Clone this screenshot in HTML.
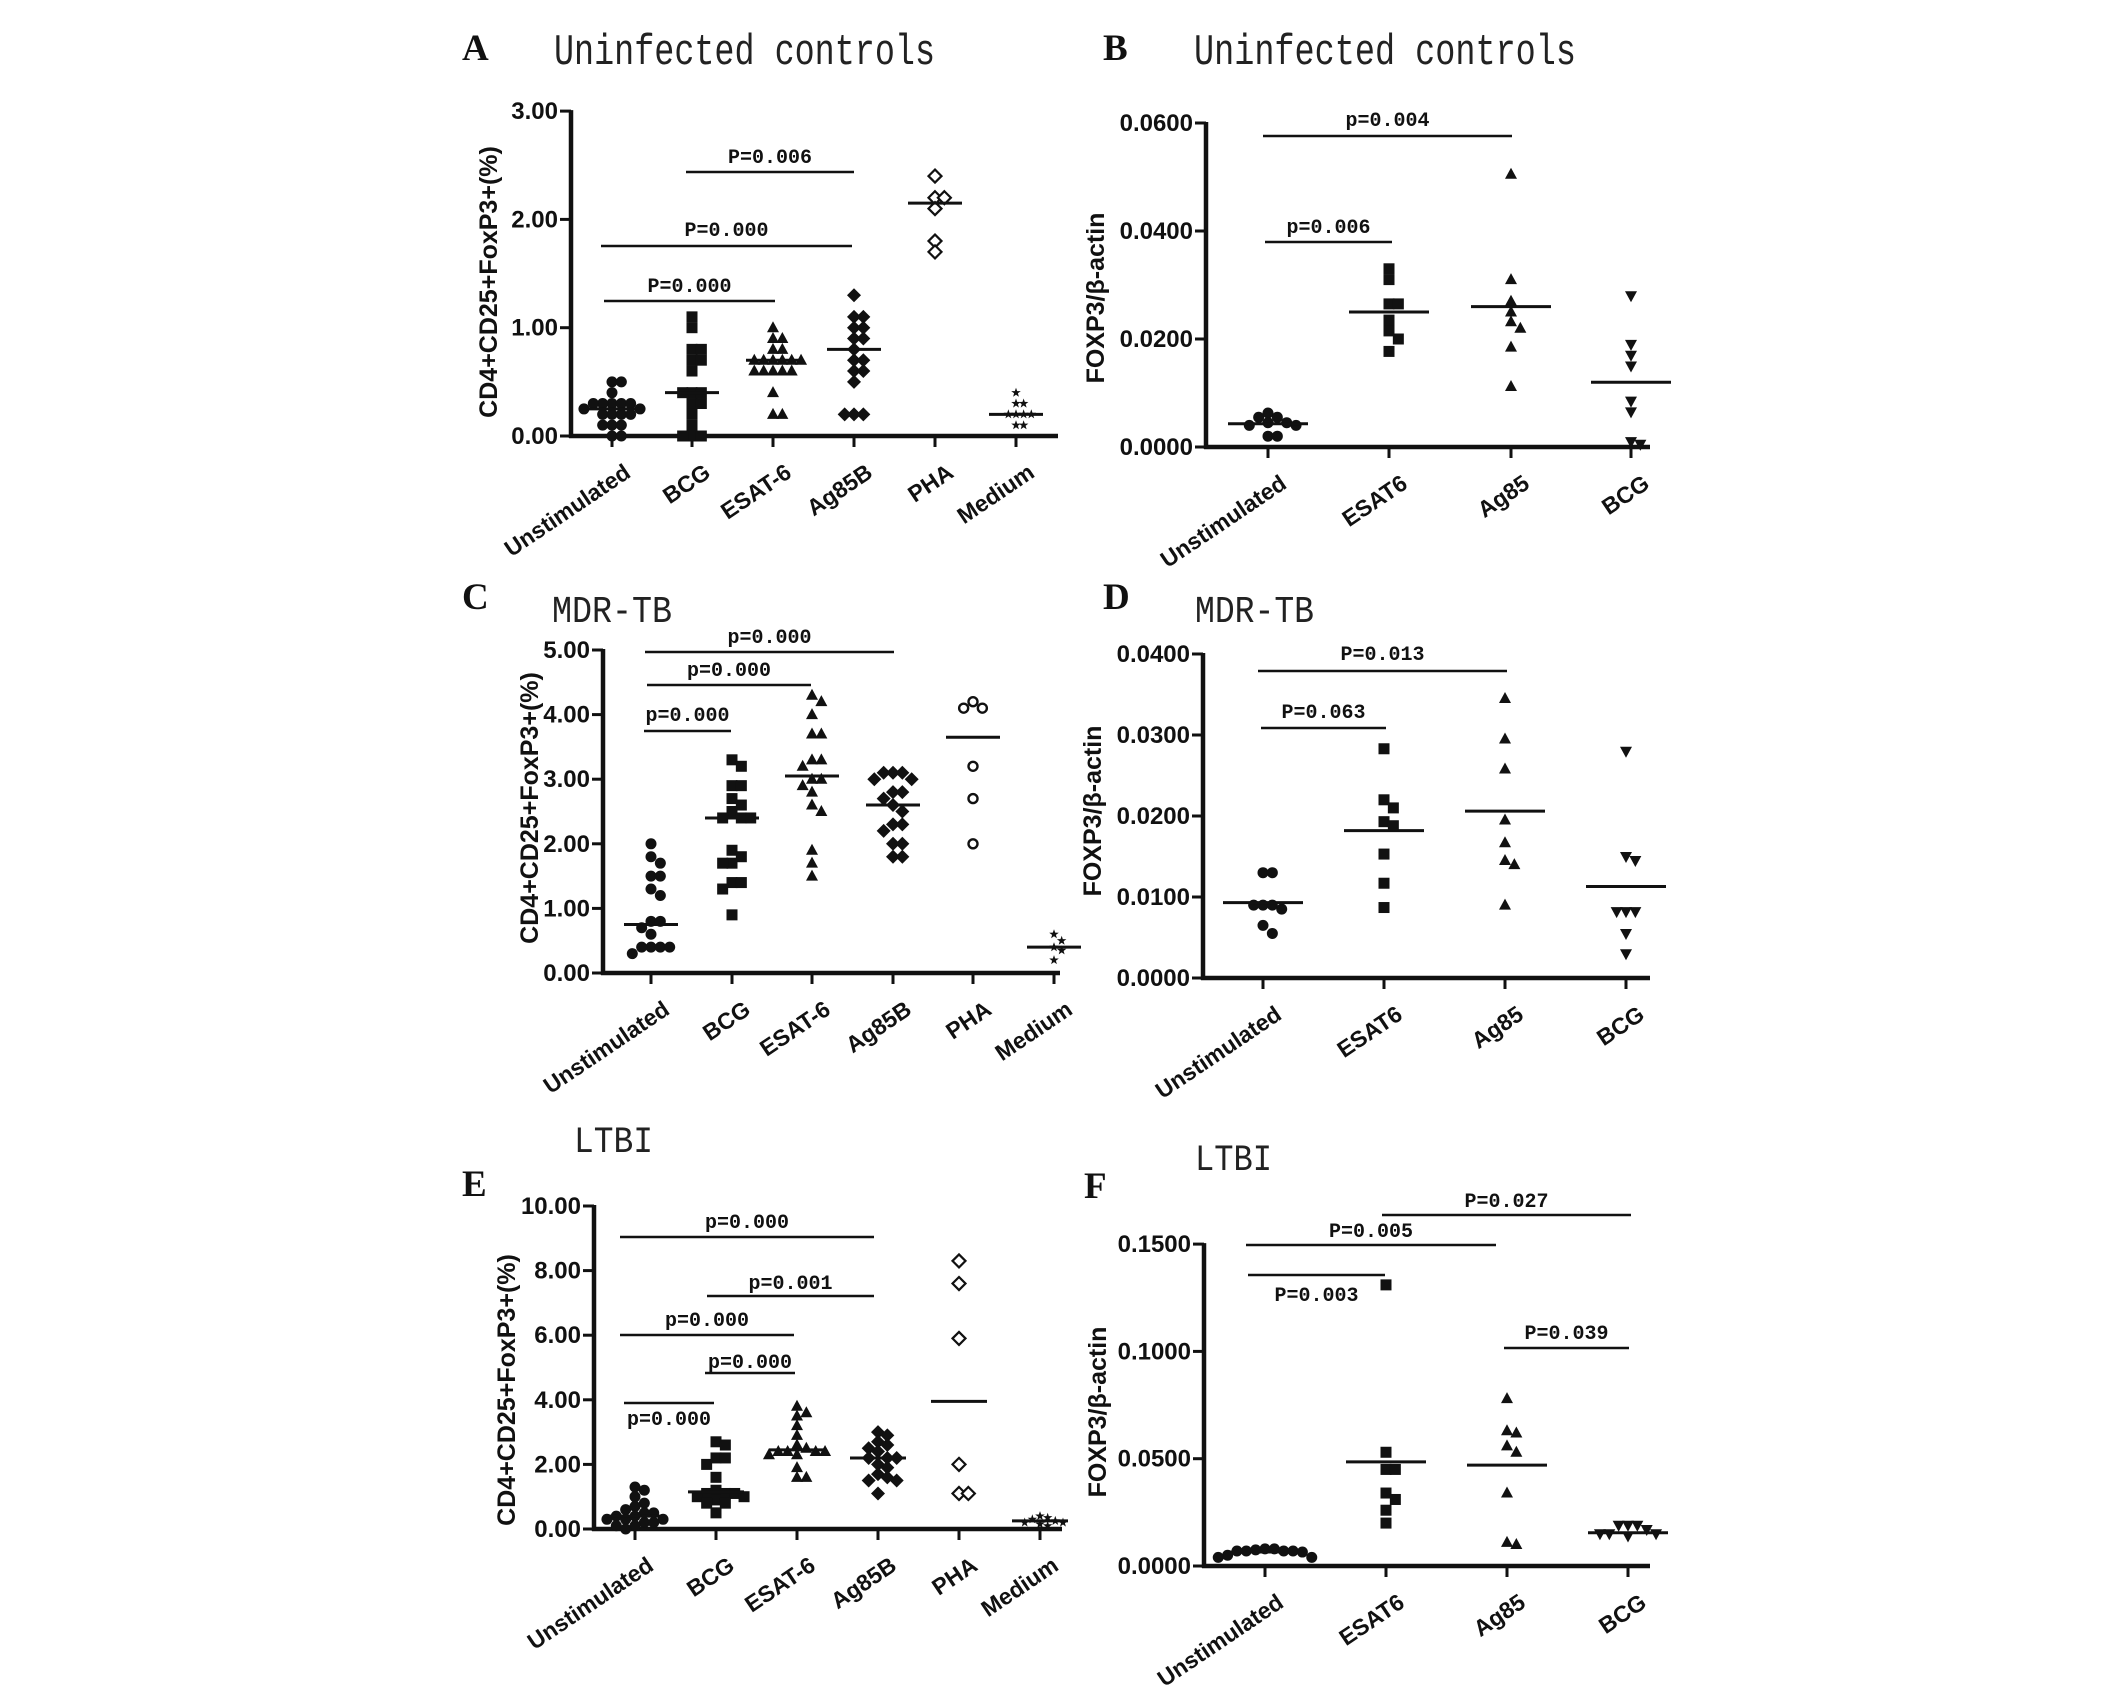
<!DOCTYPE html>
<html><head><meta charset="utf-8"><style>
html,body{margin:0;padding:0;background:#fff;}
svg{display:block;}
</style></head><body>
<svg id="fig" width="2126" height="1693" viewBox="0 0 2126 1693" xmlns="http://www.w3.org/2000/svg">
<rect width="2126" height="1693" fill="#fff"/>
</svg>
<script>
// ---------- DATA ----------
const catsLeft = ["Unstimulated","BCG","ESAT-6","Ag85B","PHA","Medium"];
const catsRight = ["Unstimulated","ESAT6","Ag85","BCG"];

const aUnstim = [0.5,0.5,0.4,0.3,0.3,0.3,0.3,0.3,0.25,0.25,0.2,0.2,0.2,0.2,0.1,0.1,0.1,0.0,0.0];
const aBCG = [1.1,1.0,0.8,0.8,0.7,0.7,0.6,0.4,0.4,0.4,0.3,0.3,0.2,0.1,0.0,0.0,0.0];
const aESAT = [1.0,0.9,0.9,0.8,0.8,0.7,0.7,0.7,0.7,0.7,0.7,0.6,0.6,0.6,0.6,0.6,0.4,0.2,0.2];
const aAg85B = [1.3,1.1,1.1,1.0,1.0,0.9,0.9,0.8,0.7,0.7,0.6,0.6,0.5,0.2,0.2,0.2];
const aPHA = [2.4,2.2,2.2,2.1,1.8,1.7];
const aMedium = [0.4,0.3,0.3,0.2,0.2,0.2,0.2,0.1,0.1];
const aMedians = [0.25,0.4,0.7,0.8,2.15,0.2];
const aTicks = [0,1,2,3];
const aTickLabels = ["0.00","1.00","2.00","3.00"];

const bUnstim = [0.0063,0.0055,0.0055,0.0045,0.0045,0.004,0.004,0.002,0.002];
const bESAT = [0.033,0.031,0.0265,0.0265,0.0235,0.0215,0.020,0.0177];
const bAg85 = [0.0505,0.031,0.027,0.025,0.0232,0.022,0.0185,0.0112];
const bBCG = [0.028,0.019,0.017,0.015,0.0085,0.0065,0.001,0.0005];
const bMedians = [0.0043,0.025,0.026,0.012];
const bTicks = [0,0.02,0.04,0.06];
const bTickLabels = ["0.0000","0.0200","0.0400","0.0600"];

const cUnstim = [2.0,1.8,1.7,1.5,1.5,1.3,1.2,0.8,0.8,0.7,0.6,0.4,0.4,0.4,0.4,0.3];
const cBCG = [3.3,3.2,2.9,2.9,2.7,2.6,2.5,2.4,2.4,2.4,1.9,1.8,1.7,1.7,1.4,1.4,1.3,0.9];
const cESAT = [4.3,4.2,4.0,3.7,3.7,3.3,3.3,3.2,3.0,3.0,2.9,2.8,2.6,2.5,1.9,1.7,1.5];
const cAg85B = [3.1,3.1,3.1,3.0,3.0,2.8,2.8,2.7,2.6,2.5,2.3,2.3,2.2,2.0,2.0,1.8,1.8];
const cPHA = [4.2,4.1,4.1,3.2,2.7,2.0];
const cMedium = [0.6,0.5,0.4,0.35,0.2];
const cMedians = [0.75,2.4,3.05,2.6,3.65,0.4];
const cTicks = [0,1,2,3,4,5];
const cTickLabels = ["0.00","1.00","2.00","3.00","4.00","5.00"];

const dUnstim = [0.013,0.013,0.009,0.009,0.009,0.0085,0.0065,0.0055];
const dESAT = [0.0283,0.022,0.021,0.0193,0.0188,0.0153,0.0117,0.0087];
const dAg85 = [0.0345,0.0295,0.0258,0.0195,0.0167,0.0145,0.014,0.009];
const dBCG = [0.028,0.015,0.0145,0.0082,0.0082,0.0082,0.0055,0.003];
const dMedians = [0.0093,0.0182,0.0206,0.0113];
const dTicks = [0,0.01,0.02,0.03,0.04];
const dTickLabels = ["0.0000","0.0100","0.0200","0.0300","0.0400"];

const eUnstim = [1.3,1.2,1.0,0.8,0.7,0.6,0.5,0.5,0.4,0.4,0.3,0.3,0.3,0.2,0.2,0.1,0.1,0.0];
const eBCG = [2.7,2.6,2.2,2.2,2.0,1.6,1.2,1.1,1.1,1.1,1.0,1.0,0.9,0.8,0.8,0.5];
const eESAT = [3.8,3.6,3.5,3.2,2.9,2.6,2.5,2.4,2.4,2.4,2.4,2.3,2.3,1.9,1.6,1.6];
const eAg85B = [3.0,2.9,2.7,2.6,2.5,2.4,2.2,2.2,2.2,2.0,1.9,1.7,1.6,1.5,1.5,1.1];
const ePHA = [8.3,7.6,5.9,2.0,1.1,1.1];
const eMedium = [0.4,0.35,0.3,0.25,0.2,0.2,0.15,0.1];
const eMedians = [0.4,1.15,2.45,2.2,3.95,0.25];
const eTicks = [0,2,4,6,8,10];
const eTickLabels = ["0.00","2.00","4.00","6.00","8.00","10.00"];

const fUnstim = [0.008,0.008,0.0075,0.007,0.007,0.007,0.007,0.0065,0.005,0.004,0.004];
const fESAT = [0.131,0.053,0.045,0.045,0.034,0.031,0.026,0.020];
const fAg85 = [0.078,0.063,0.062,0.056,0.053,0.034,0.011,0.010];
const fBCG = [0.019,0.019,0.019,0.017,0.015,0.015,0.015,0.014];
const fMedians = [0.0065,0.0485,0.047,0.0155];
const fTicks = [0,0.05,0.1,0.15];
const fTickLabels = ["0.0000","0.0500","0.1000","0.1500"];

const pLabelsA = ["P=0.006","P=0.000","P=0.000"];
const pLabelsB = ["p=0.004","p=0.006"];
const pLabelsC = ["p=0.000","p=0.000","p=0.000"];
const pLabelsD = ["P=0.013","P=0.063"];
const pLabelsE = ["p=0.000","p=0.001","p=0.000","p=0.000","p=0.000"];
const pLabelsF = ["P=0.027","P=0.005","P=0.003","P=0.039"];

// ---------- LAYOUT ----------
const panels = [
 {id:"a", letter:"A", title:"Uninfected controls", lx:462, ly:60, tx:554, ty:64, tw:381, tfs:44,
  axX:571, y0:436, k:108.3, yMax:3, xEnd:1058, cats:[612,692,773,854,935,1016], names:catsLeft,
  ticks:aTicks, tl:aTickLabels, ylab:"CD4+CD25+FoxP3+(%)", ylx:488, yly:282, half:27,
  series:[[aUnstim,"circle"],[aBCG,"square"],[aESAT,"tri"],[aAg85B,"diamond"],[aPHA,"odiamond"],[aMedium,"star"]], med:aMedians,
  bars:[[686,854,172,156],[601,852,246,229],[604,775,301,285]], pl:pLabelsA},
 {id:"b", letter:"B", title:"Uninfected controls", lx:1103, ly:60, tx:1194, ty:64, tw:382, tfs:44,
  axX:1206, y0:447, k:5400, yMax:0.06, xEnd:1650, cats:[1268,1389,1511,1631], names:catsRight,
  ticks:bTicks, tl:bTickLabels, ylab:"FOXP3/β-actin", ylx:1095, yly:298, half:40,
  series:[[bUnstim,"circle"],[bESAT,"square"],[bAg85,"tri"],[bBCG,"itri"]], med:bMedians,
  bars:[[1263,1512,136,119],[1265,1392,242,226]], pl:pLabelsB},
 {id:"c", letter:"C", title:"MDR-TB", lx:462, ly:609, tx:552, ty:622, tw:120, tfs:38,
  axX:603, y0:973, k:64.6, yMax:5, xEnd:1060, cats:[651,732,812,893,973,1054], names:catsLeft,
  ticks:cTicks, tl:cTickLabels, ylab:"CD4+CD25+FoxP3+(%)", ylx:529, yly:808, half:27,
  series:[[cUnstim,"circle"],[cBCG,"square"],[cESAT,"tri"],[cAg85B,"diamond"],[cPHA,"ocircle"],[cMedium,"star"]], med:cMedians,
  bars:[[645,894,652,636],[647,811,685,669],[644,731,731,714]], pl:pLabelsC},
 {id:"d", letter:"D", title:"MDR-TB", lx:1103, ly:609, tx:1195, ty:622, tw:119, tfs:38,
  axX:1203, y0:978, k:8100, yMax:0.04, xEnd:1650, cats:[1263,1384,1505,1626], names:catsRight,
  ticks:dTicks, tl:dTickLabels, ylab:"FOXP3/β-actin", ylx:1092, yly:811, half:40,
  series:[[dUnstim,"circle"],[dESAT,"square"],[dAg85,"tri"],[dBCG,"itri"]], med:dMedians,
  bars:[[1258,1507,671,653],[1261,1386,728,711]], pl:pLabelsD},
 {id:"e", letter:"E", title:"LTBI", lx:462, ly:1196, tx:574, ty:1152, tw:79, tfs:37,
  axX:594, y0:1529, k:32.3, yMax:10, xEnd:1062, cats:[635,716,797,878,959,1040], names:catsLeft,
  ticks:eTicks, tl:eTickLabels, ylab:"CD4+CD25+FoxP3+(%)", ylx:506, yly:1390, half:28,
  series:[[eUnstim,"circle"],[eBCG,"square"],[eESAT,"tri"],[eAg85B,"diamond"],[ePHA,"odiamond"],[eMedium,"star"]], med:eMedians,
  bars:[[620,874,1237,1221],[707,874,1296,1282],[620,794,1335,1319],[705,795,1373,1361],[624,714,1403,1418]], pl:pLabelsE},
 {id:"f", letter:"F", title:"LTBI", lx:1084, ly:1198, tx:1195, ty:1170, tw:77, tfs:37,
  axX:1204, y0:1566, k:2146, yMax:0.15, xEnd:1650, cats:[1265,1386,1507,1628], names:catsRight,
  ticks:fTicks, tl:fTickLabels, ylab:"FOXP3/β-actin", ylx:1097, yly:1412, half:40,
  series:[[fUnstim,"circle"],[fESAT,"square"],[fAg85,"tri"],[fBCG,"itri"]], med:fMedians,
  bars:[[1382,1631,1215,1200],[1246,1496,1245,1230],[1248,1385,1275,1294],[1504,1629,1348,1332]], pl:pLabelsF}
];

const NS = "http://www.w3.org/2000/svg";
const svg = document.getElementById("fig");
function mk(tag, attrs, parent){
  const e = document.createElementNS(NS, tag);
  for (const k in attrs) e.setAttribute(k, attrs[k]);
  (parent||svg).appendChild(e);
  return e;
}

function marker(g, shape, x, y){
  let e;
  if (shape==="circle") e = mk("circle",{cx:x,cy:y,r:5.5,fill:"#111"},g);
  else if (shape==="ocircle") e = mk("circle",{cx:x,cy:y,r:4.5,fill:"#fff",stroke:"#111","stroke-width":2.4},g);
  else if (shape==="square") e = mk("rect",{x:x-5.5,y:y-5.5,width:11,height:11,fill:"#111"},g);
  else if (shape==="tri") e = mk("polygon",{points:`${x},${y-6.5} ${x+6},${y+4.5} ${x-6},${y+4.5}`,fill:"#111"},g);
  else if (shape==="itri") e = mk("polygon",{points:`${x},${y+6.5} ${x+6},${y-4.5} ${x-6},${y-4.5}`,fill:"#111"},g);
  else if (shape==="diamond") e = mk("polygon",{points:`${x},${y-7} ${x+7},${y} ${x},${y+7} ${x-7},${y}`,fill:"#111"},g);
  else if (shape==="odiamond") e = mk("polygon",{points:`${x},${y-6.5} ${x+6.5},${y} ${x},${y+6.5} ${x-6.5},${y}`,fill:"#fff",stroke:"#111","stroke-width":2.2},g);
  else {
    let pts=[];
    for(let i=0;i<10;i++){const r=i%2?2:5;const a=-Math.PI/2+i*Math.PI/5;pts.push((x+r*Math.cos(a)).toFixed(1)+","+(y+r*Math.sin(a)).toFixed(1));}
    e = mk("polygon",{points:pts.join(" "),fill:"#111"},g);
  }
  
  
}

function swarm(pys, size){
  const placed = [];
  const d = size*0.85;
  const cands = [0];
  for (let i=1;i<12;i++){ cands.push(i*d/2, -i*d/2); }
  return pys.map(py => {
    for (const off of cands){
      let ok = true;
      for (const q of placed){
        if (Math.abs(q[0]-off) < d-0.5 && Math.abs(q[1]-py) < d-0.5){ ok=false; break; }
      }
      if (ok){ placed.push([off,py]); return off; }
    }
    placed.push([0,py]); return 0;
  });
}

panels.forEach(p => {
  const yS = v => p.y0 - v*p.k;
  const g = mk("g",{});
  
  

  let t = mk("text",{x:p.lx,y:p.ly,"font-family":"Liberation Serif, serif","font-weight":"bold","font-size":37,fill:"#111"},g);
  t.textContent = p.letter;
  
  

  t = mk("text",{x:p.tx,y:p.ty,"font-family":"Liberation Mono, monospace","font-size":p.tfs,fill:"#222",textLength:p.tw,lengthAdjust:"spacingAndGlyphs"},g);
  t.textContent = p.title;
  
  

  let ax = mk("line",{x1:p.axX,y1:yS(p.yMax)-1,x2:p.axX,y2:p.y0+2,stroke:"#111","stroke-width":4.5},g);
  
  
  ax = mk("line",{x1:p.axX-2,y1:p.y0,x2:p.xEnd,y2:p.y0,stroke:"#111","stroke-width":4.5},g);
  
  

  p.ticks.forEach((v,i) => {
    const y = yS(v);
    const tk = mk("line",{x1:p.axX-11,y1:y,x2:p.axX,y2:y,stroke:"#111","stroke-width":3},g);
    
    
    const lb = mk("text",{x:p.axX-13,y:y+8,"text-anchor":"end","font-family":"Liberation Sans, sans-serif","font-weight":"bold","font-size":24,fill:"#111"},g);
    lb.textContent = p.tl[i];
    
    
  });

  const yl = mk("text",{x:0,y:0,transform:`translate(${p.ylx+9},${p.yly}) rotate(-90)`,"text-anchor":"middle","font-family":"Liberation Sans, sans-serif","font-weight":"bold","font-size":25,fill:"#111"},g);
  yl.textContent = p.ylab;
  
  

  p.cats.forEach((cx,i) => {
    const tk = mk("line",{x1:cx,y1:p.y0,x2:cx,y2:p.y0+11,stroke:"#111","stroke-width":3},g);
    
    
    const ex = cx+20, ey = p.y0+40;
    const lb = mk("text",{x:ex,y:ey,transform:`rotate(-34 ${ex} ${ey})`,"text-anchor":"end","font-family":"Liberation Sans, sans-serif","font-weight":"bold","font-size":23,fill:"#111"},g);
    lb.textContent = p.names[i];
    
    
  });

  p.series.forEach((s,i) => {
    const vals = s[0].slice().sort((a,b)=>b-a);
    const cx = p.cats[i];
    const sg = mk("g",{},g);
    
    
    const pys = vals.map(yS);
    const size = s[1]==="star" ? 9 : 11;
    const offs = swarm(pys, size);
    pys.forEach((py,j) => marker(sg, s[1], cx + offs[j], py));
    const m = mk("line",{x1:cx-p.half,y1:yS(p.med[i]),x2:cx+p.half,y2:yS(p.med[i]),stroke:"#111","stroke-width":3},sg);
    
    
  });

  p.bars.forEach((b,i) => {
    const l = mk("line",{x1:b[0],y1:b[2],x2:b[1],y2:b[2],stroke:"#111","stroke-width":2.6},g);
    
    
    const tx = mk("text",{x:(b[0]+b[1])/2,y:b[3]+7,"text-anchor":"middle","font-family":"Liberation Mono, monospace","font-weight":"bold","font-size":20,fill:"#111"},g);
    tx.textContent = p.pl[i];
    
    
  });
});
</script>
</body></html>
